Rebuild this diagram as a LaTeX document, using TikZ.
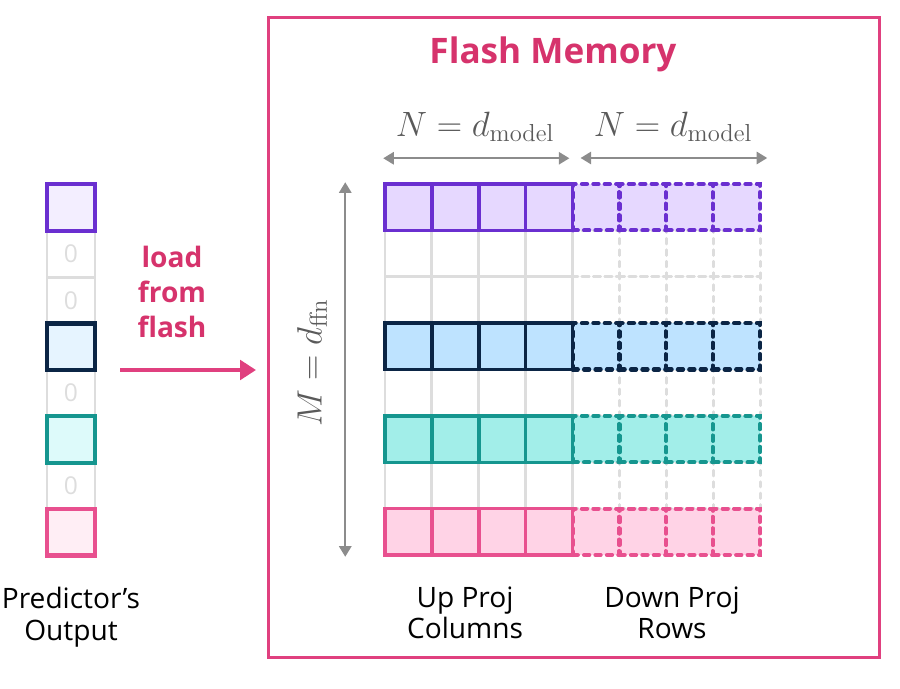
\documentclass[tikz,border=0pt]{standalone}
\usepackage{fix-cm}
\usepackage{amsmath}
\usepackage[no-math]{fontspec}
\setmainfont{Open Sans}
\usetikzlibrary{arrows.meta, positioning}
\definecolor{flashpink}{HTML}{E0407F}
\definecolor{titlepink}{HTML}{D6336C}
\definecolor{gridgray}{HTML}{DDDDDD}
\definecolor{dimgray}{HTML}{8C8C8C}
\definecolor{labelgray}{HTML}{5A5A5A}
\definecolor{rowpurple}{HTML}{6A2FD0}
\definecolor{rownavy}{HTML}{0B2545}
\definecolor{rowteal}{HTML}{15968F}
\definecolor{rowpink}{HTML}{E8508F}
\definecolor{fillpurple}{HTML}{E6D8FF}
\definecolor{fillnavy}{HTML}{BEE3FF}
\definecolor{fillteal}{HTML}{A2EEE9}
\definecolor{fillpink}{HTML}{FFD3E6}
\definecolor{predpurple}{HTML}{F3EEFF}
\definecolor{prednavy}{HTML}{E6F4FF}
\definecolor{predteal}{HTML}{DDFAFA}
\definecolor{predpink}{HTML}{FFEEF5}

\begin{document}
\begin{tikzpicture}[
    x=0.02cm, y=-0.02cm,
    frame/.style={draw=flashpink, line width=1.7pt, minimum width=12.24cm,
                  minimum height=12.82cm},
    predcell/.style={rectangle, minimum width=0.96cm, minimum height=0.928cm,
                     line width=1.7pt, draw=gridgray, font=\fontsize{14}{16}\selectfont,
                     text=gridgray},
    predrow/.style={predcell, line width=2.3pt},
    upcell/.style={rectangle, minimum width=0.938cm, minimum height=0.9275cm,
                   line width=1.6pt, draw=gridgray},
    downcell/.style={upcell, dash pattern=on 3pt off 3.5pt, line cap=round},
    rowcell/.style={upcell, line width=2pt},
    dimarrow/.style={draw=dimgray, line width=1.1pt, {Triangle[length=6pt,width=7pt]}-{Triangle[length=6pt,width=7pt]}},
    dimlabel/.style={text=labelgray, font=\fontsize{20}{24}\selectfont},
    caption/.style={align=center, font=\fontsize{16}{18}\selectfont},
]
\useasboundingbox (0,0) rectangle (900,689);

% Flash memory frame
\node[frame] (flash) at (574,337.5) {};
\node[text=titlepink, font=\fontsize{20}{24}\selectfont\bfseries] (title) at (553,54) {Flash Memory};

% Predictor output column
\foreach \i/\z in {1/0, 2/0, 4/0, 6/0} {
    \node[predcell] (p\i) at (71,207.5+46.4*\i) {\z};
}
\foreach \i/\bc/\fc in {0/rowpurple/predpurple, 3/rownavy/prednavy, 5/rowteal/predteal, 7/rowpink/predpink} {
    \node[predrow, draw=\bc, fill=\fc] (p\i) at (71,207.5+46.4*\i) {};
}
\node[caption] (predlabel) at (71,617) {Predictor's\\Output};

% Load arrow
\node[caption, text=titlepink, font=\fontsize{16}{20}\selectfont\bfseries] (loadlabel) at (172,292) {load\\from\\flash};
\coordinate (loadstart) at (120,370);
\coordinate (loadend) at (256,370);
\draw[flashpink, line width=2.2pt, -{Triangle[length=9pt,width=11pt]}] (loadstart) -- (loadend);

% Up projection columns (solid) and down projection rows (dashed)
\foreach \r in {0,...,7} {
    \foreach \c in {0,...,3} {
        \node[upcell] (u\r\c) at (408.45+46.9*\c,207.2+46.375*\r) {};
        \node[downcell] (d\r\c) at (596.05+46.9*\c,207.2+46.375*\r) {};
    }
}
\foreach \r/\bc/\fc in {0/rowpurple/fillpurple, 3/rownavy/fillnavy, 5/rowteal/fillteal, 7/rowpink/fillpink} {
    \foreach \c in {0,...,3} {
        \node[rowcell, draw=\bc, fill=\fc] (u\r\c) at (408.45+46.9*\c,207.2+46.375*\r) {};
        \node[rowcell, line width=2.3pt, dash pattern=on 3pt off 3.5pt, line cap=round, draw=\bc, fill=\fc]
            (d\r\c) at (596.05+46.9*\c,207.2+46.375*\r) {};
    }
}

% Dimensions
\draw[dimarrow] ([yshift=0.48cm]u00.north west) -- ([xshift=-0.1cm,yshift=0.48cm]u03.north east);
\draw[dimarrow] ([xshift=0.2cm,yshift=0.48cm]d00.north west) -- ([xshift=0.1cm,yshift=0.48cm]d03.north east);
\node[dimlabel] (nup) at (475,127) {$N = d_{\mathrm{model}}$};
\node[dimlabel] (ndown) at (673,127) {$N = d_{\mathrm{model}}$};
\draw[dimarrow] ([xshift=-0.76cm]u00.north west) -- ([xshift=-0.76cm]u70.south west);
\node[dimlabel, rotate=90] (mlabel) at (312,363) {$M = d_{\mathrm{ffn}}$};

\node[caption] (uplabel) at (465,613) {Up Proj\\Columns};
\node[caption] (downlabel) at (672,613) {Down Proj\\Rows};
\end{tikzpicture}
\end{document}
